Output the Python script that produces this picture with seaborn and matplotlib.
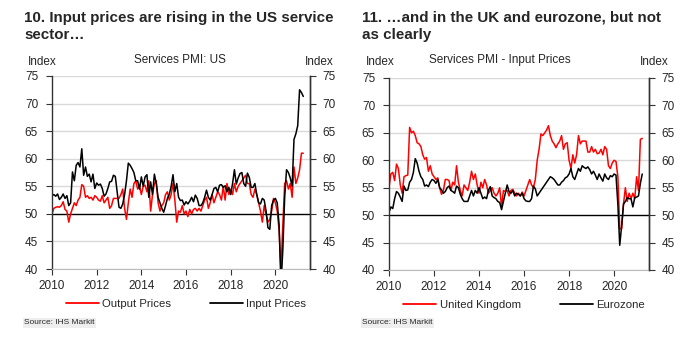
import numpy as np
import pandas as pd
import matplotlib
matplotlib.use("Agg")
import matplotlib.pyplot as plt
import seaborn as sns

# ---------------- data (monthly, Jan 2010 - Apr 2021) ----------------
start_year = 2010
us_output = [
    50.0, 51.0, 51.2, 51.3, 51.2, 51.5, 52.2, 50.8, 50.5, 48.5, 50.0, 51.0,
    52.0, 51.5, 52.5, 53.0, 55.3, 55.0, 53.0, 53.3, 52.8, 53.0, 52.5, 53.3,
    53.0, 52.5, 52.3, 53.3, 52.0, 52.5, 53.0, 51.0, 51.5, 52.8, 52.8, 52.8,
    52.8, 53.5, 54.5, 51.0, 49.0, 52.0, 54.5, 53.0, 55.5, 56.0, 54.5, 55.0,
    53.5, 55.0, 55.2, 54.0, 56.0, 50.5, 53.5, 55.5, 56.0, 52.0, 50.5, 51.5,
    52.0, 53.5, 54.0, 52.5, 53.5, 55.5, 52.5, 48.5, 50.5, 50.3, 51.5, 50.0,
    50.5, 49.5, 50.8, 50.0, 50.8, 51.0, 50.5, 51.0, 50.5, 51.5, 52.5, 53.0,
    51.0, 52.0, 53.5, 52.0, 53.0, 54.0, 53.5, 52.5, 55.0, 52.5, 55.5, 53.5,
    54.5, 53.5, 55.5, 54.0, 55.0, 55.5, 56.0, 56.5, 57.0, 55.5, 55.5, 53.5,
    53.0, 54.5, 53.5, 52.0, 50.5, 48.5, 51.5, 50.0, 48.5, 49.0, 50.5, 52.8,
    52.0, 50.5, 47.0, 40.0, 48.0, 55.5, 56.0, 54.5, 55.5, 53.0, 58.5, 55.5,
    56.5, 58.0, 61.0, 61.0,
]
us_input = [
    53.3, 53.5, 53.2, 53.6, 52.6, 53.0, 53.6, 52.8, 53.3, 51.5, 52.0, 57.6,
    56.0, 58.8, 59.3, 58.5, 61.8, 57.0, 58.5, 56.8, 57.2, 55.8, 57.2, 54.6,
    55.6, 55.2, 55.4, 54.6, 53.2, 53.6, 54.6, 55.8, 55.9, 57.0, 56.8, 54.0,
    51.2, 51.0, 51.8, 53.5, 56.0, 59.2, 58.8, 58.2, 57.5, 56.0, 56.0, 54.5,
    56.7, 55.0, 56.7, 57.1, 53.0, 55.8, 53.5, 57.2, 55.5, 53.0, 52.0, 51.0,
    50.3, 51.5, 52.8, 53.5, 55.0, 57.1, 54.0, 55.5, 53.0, 52.4, 52.5, 51.6,
    52.2, 51.8, 52.3, 53.0, 52.2, 53.4, 52.8, 51.5, 51.5, 52.0, 53.0, 54.3,
    53.0, 52.5, 53.5, 54.6, 54.8, 54.0, 55.2, 55.3, 54.8, 55.1, 54.0, 54.8,
    53.5, 55.5, 58.0, 55.4, 56.5, 57.3, 57.5, 55.5, 55.0, 57.4, 56.6, 54.8,
    54.8, 55.5, 53.5, 52.0, 51.8, 52.8, 52.5, 50.5, 47.5, 47.2, 51.5, 52.5,
    52.8, 52.0, 48.0, 37.0, 43.5, 53.0, 58.0, 57.5, 56.5, 55.0, 63.5, 64.5,
    66.0, 72.5, 72.0, 71.3,
]
uk_input = [
    55.0, 57.5, 57.8, 56.3, 59.3, 58.5, 55.5, 54.0, 57.0, 57.2, 57.3, 66.0,
    65.0, 65.3, 64.5, 63.2, 63.0, 62.5, 61.0, 60.2, 60.5, 58.0, 59.0, 57.5,
    57.0, 56.5, 56.8, 55.0, 53.8, 54.5, 56.5, 56.5, 56.3, 54.5, 56.0, 55.5,
    59.0, 56.0, 54.5, 53.5, 55.5, 55.0, 54.5, 56.0, 58.0, 56.5, 57.5, 55.5,
    54.0, 56.0, 55.0, 56.5, 55.5, 54.0, 54.5, 55.0, 54.0, 53.5, 54.0, 55.0,
    51.5, 54.5, 54.3, 54.5, 53.5, 54.5, 54.7, 54.0, 53.5, 54.0, 53.5, 54.2,
    53.5, 54.5, 55.5, 56.5, 55.5, 55.0, 56.5, 60.0, 62.0, 64.8, 64.5, 65.0,
    65.5, 66.3, 64.5, 63.5, 63.0, 62.3, 63.0, 63.5, 64.5, 62.0, 63.0, 63.2,
    60.0, 58.5, 61.0, 59.5, 61.0, 64.5, 63.0, 63.5, 63.5, 63.5, 61.5, 61.5,
    62.5, 61.5, 62.0, 61.2, 61.3, 62.0, 61.0, 62.5, 62.0, 59.0, 58.5, 59.5,
    60.0, 59.8, 57.0, 47.5, 47.5, 52.0, 55.0, 52.5, 54.0, 53.0, 54.0, 53.0,
    57.0, 54.5, 63.8, 64.0,
]
ez_input = [
    50.5, 51.5, 51.2, 53.0, 54.3, 54.0, 53.3, 52.5, 55.3, 54.5, 54.6, 56.0,
    56.5, 57.8, 60.3, 59.5, 58.0, 57.0, 56.5, 55.3, 55.5, 55.2, 56.0, 56.5,
    56.3, 55.8, 56.5, 55.0, 54.6, 54.0, 54.3, 55.0, 55.3, 54.5, 54.3, 54.0,
    55.3, 55.0, 53.8, 53.0, 52.5, 52.5, 52.5, 53.5, 54.5, 53.5, 54.5, 54.0,
    55.0, 54.0, 53.0, 53.3, 53.0, 54.5, 55.2, 53.5, 53.2, 53.0, 52.5, 52.3,
    51.0, 52.5, 54.0, 55.5, 54.3, 54.0, 54.5, 53.5, 54.0, 53.8, 53.5, 54.0,
    53.0, 52.6, 52.5, 52.5, 53.0, 55.3, 54.8, 53.5, 54.0, 54.5, 55.0, 55.5,
    56.0, 56.5, 57.0, 56.8, 56.5, 56.0, 55.5, 55.5, 56.0, 56.3, 56.8, 57.0,
    57.5, 58.5, 57.0, 56.5, 57.5, 58.5, 58.0, 59.0, 58.7, 58.5, 58.8, 58.3,
    57.5, 58.0, 57.3, 56.5, 57.5, 56.8, 56.2, 57.5, 56.8, 56.5, 57.2, 57.0,
    57.5, 57.3, 52.0, 44.5, 48.0, 52.0, 52.5, 53.2, 53.0, 53.0, 51.5, 53.2,
    53.3, 53.5, 55.8, 57.5,
]
x_ticks = [2010, 2012, 2014, 2016, 2018, 2020]
y_ticks = [40, 45, 50, 55, 60, 65, 70, 75]

left_title = "10. Input prices are rising in the US service\nsector\u2026"
right_title = "11. \u2026and in the UK and eurozone, but not\nas clearly"
left_sub = "Services PMI: US"
right_sub = "Services PMI - Input Prices"
source = "Source: IHS Markit"

# ---------------- style ----------------
sns.set_theme(style="white")
NARROW = ["Liberation Sans Narrow", "Liberation Sans", "DejaVu Sans"]
plt.rcParams["font.family"] = NARROW
plt.rcParams["axes.unicode_minus"] = False

W, H = 693, 350
fig = plt.figure(figsize=(W / 100, H / 100), dpi=100)
fig.patch.set_facecolor("white")


def fx(px):
    return px / W


def fy(py):
    return 1 - py / H


def make_panel(rect, series, colors, title, sub, x_title, idx_l, idx_r, sub_x):
    l, t, r, b = rect
    ax = fig.add_axes([fx(l), fy(b), fx(r - l), (b - t) / H])
    n = len(series[0][1])
    dates = start_year + np.arange(n) / 12.0
    frames = []
    for name, vals in series:
        frames.append(pd.DataFrame({"date": dates, "value": vals, "series": name}))
    df = pd.concat(frames, ignore_index=True)
    sns.lineplot(data=df, x="date", y="value", hue="series",
                 palette=dict(zip([s[0] for s in series], colors)),
                 hue_order=[s[0] for s in series],
                 linewidth=1.1, ax=ax, legend=True, estimator=None)
    ax.set_xlim(2010, 2021.55)
    ax.set_ylim(40, 75)
    ax.set_yticks(y_ticks)
    ax.set_xticks(x_ticks)
    ax.set_xlabel("")
    ax.set_ylabel("")
    for yv in y_ticks:
        if yv == 50:
            ax.axhline(yv, color="black", lw=1.0, zorder=1)
        else:
            ax.axhline(yv, color="#d9d9d9", lw=1.0, zorder=0)
    for s in ["left", "right"]:
        ax.spines[s].set_color("#333333")
        ax.spines[s].set_linewidth(1.0)
    ax.spines["top"].set_visible(False)
    ax.spines["bottom"].set_color("#bbbbbb")
    ax.spines["bottom"].set_linewidth(0.8)
    ax.tick_params(axis="both", direction="out", length=4, width=0.8,
                   color="#333333", labelsize=8.5, pad=2,
                   left=True, bottom=True)
    ax.tick_params(axis="y", pad=6)
    ax.tick_params(axis="x", pad=4)
    ax2 = ax.twinx()
    ax2.set_ylim(40, 75)
    ax2.set_yticks(y_ticks)
    ax2.tick_params(axis="y", direction="out", length=4, width=0.8,
                    color="#333333", labelsize=8.5, pad=5, right=True)
    for s in ["left", "top", "bottom"]:
        ax2.spines[s].set_visible(False)
    ax2.spines["right"].set_color("#333333")
    ax2.spines["right"].set_linewidth(1.0)
    ax2.grid(False)
    ax.grid(False)

    leg = ax.legend(loc="center", bbox_to_anchor=(0.52, -0.18), ncol=2,
                    frameon=False, fontsize=8.2, handlelength=2.9,
                    columnspacing=3.4, handletextpad=0.3)
    for h in leg.get_lines():
        h.set_linewidth(1.3)

    fig.text(fx(x_title), fy(11), title, fontsize=10.9, fontweight="bold",
             family=["Liberation Sans", "DejaVu Sans"], va="top", ha="left",
             linespacing=1.25)
    fig.text(fx(idx_l), fy(62), "Index", fontsize=8.5, ha="left", va="center")
    fig.text(fx(idx_r), fy(62), "Index", fontsize=8.5, ha="left", va="center")
    fig.text(fx(sub_x), fy(60), sub, fontsize=8.5, ha="center", va="center")
    fig.text(fx(x_title), fy(323), source, fontsize=6, ha="left", va="center",
             bbox=dict(facecolor="#eeeeee", edgecolor="none", pad=1.0))
    return ax


make_panel((52, 76, 310, 269),
           [("Output Prices", us_output), ("Input Prices", us_input)],
           ["#ff0000", "black"], left_title, left_sub, 24, 28, 305, 180)
make_panel((389, 78, 649, 270),
           [("United Kingdom", uk_input), ("Eurozone", ez_input)],
           ["#ff0000", "black"], right_title, right_sub, 362, 366, 640, 500)

fig.savefig("out.png", dpi=100, facecolor="white")
